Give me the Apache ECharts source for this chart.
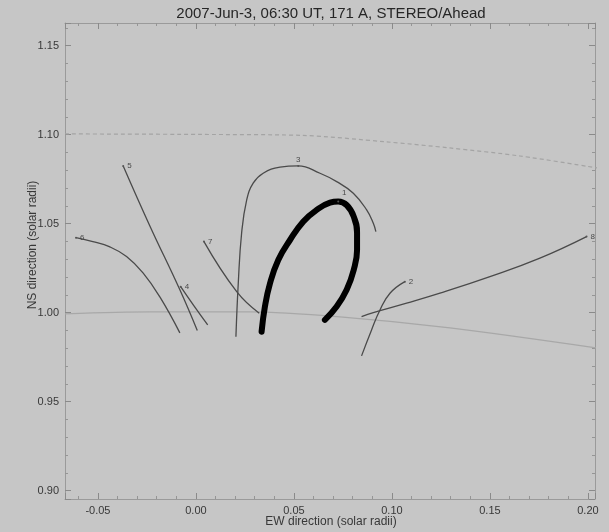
<!DOCTYPE html>
<html>
<head>
<meta charset="utf-8">
<script src="https://cdn.jsdelivr.net/npm/echarts@6/dist/echarts.min.js"></script>
<style>html,body{margin:0;padding:0;background:#c6c6c6;}#c{width:609px;height:532px;}</style>
</head>
<body>
<div id="c"></div>
<script>
// ---- data (solar radii) ----
var titleText = '2007-Jun-3, 06:30 UT, 171 A, STEREO/Ahead';
var xName = 'EW direction (solar radii)';
var yName = 'NS direction (solar radii)';
var xTicks = [-0.05, 0.00, 0.05, 0.10, 0.15, 0.20];
var yTicks = [0.90, 0.95, 1.00, 1.05, 1.10, 1.15];

var loop1X = [0.0335,0.0352,0.0378,0.0420,0.0480,0.0547,0.0616,0.0684,0.0726,0.0770,0.0805,0.0822,0.0822,0.0805,0.0769,0.0718,0.0658];
var loop1Y = [0.9893,1.0034,1.0165,1.0296,1.0408,1.0511,1.0577,1.0618,1.0624,1.0603,1.0540,1.0450,1.0350,1.0240,1.0128,1.0034,0.9959];
var loop2X = [0.1066,0.0990,0.0939,0.0896,0.0845];
var loop2Y = [1.0174,1.0109,1.0015,0.9903,0.9757];
var loop3X = [0.0204,0.0216,0.0233,0.0259,0.0292,0.0343,0.0429,0.0522,0.0633,0.0718,0.0803,0.0871,0.0905,0.0918];
var loop3Y = [0.9865,1.0165,1.0446,1.0633,1.0727,1.0783,1.0817,1.0824,1.0783,1.0736,1.0671,1.0577,1.0502,1.0455];
var loop4X = [-0.0078,-0.0010,0.0060];
var loop4Y = [1.0146,1.0038,0.9931];
var loop5X = [-0.0371,-0.0235,-0.0082,0.0007];
var loop5Y = [1.0824,1.0487,1.0128,0.9899];
var loop6X = [-0.0612,-0.0526,-0.0439,-0.0354,-0.0270,-0.0184,-0.0082];
var loop6Y = [1.0421,1.0399,1.0369,1.0315,1.0223,1.0088,0.9886];
var loop7X = [0.0041,0.0208,0.0323];
var loop7Y = [1.0399,1.0118,0.9997];
var loop8X = [0.1993,0.1755,0.1500,0.1245,0.1075,0.0905,0.0845];
var loop8Y = [1.0427,1.0306,1.0202,1.0109,1.0053,1.0000,0.9978];

var limbX = [-0.0668,-0.0235,0.0276,0.0735,0.1296,0.2041];
var limbY = [0.9993,1.0004,1.0004,0.9976,0.9914,0.9802];
var outerX = [-0.0668,0.0020,0.0531,0.0974,0.1296,0.1653,0.2046];
var outerY = [1.1004,1.1001,1.0996,1.0959,1.0925,1.0880,1.0813];

var loopNames = ['1','2','3','4','5','6','7','8'];
var loopLabelIdx = [8,0,7,0,0,0,0,0];

// ---- chart ----
var loopsX = [loop1X,loop2X,loop3X,loop4X,loop5X,loop6X,loop7X,loop8X];
var loopsY = [loop1Y,loop2Y,loop3Y,loop4Y,loop5Y,loop6Y,loop7Y,loop8Y];
function pts(xs, ys){ return xs.map(function(x,i){ return [x, ys[i]]; }); }
function isTick(v, list){ for (var i=0;i<list.length;i++){ if (Math.abs(v-list[i])<1e-6) return true; } return false; }

var series = [];
series.push({type:'line', data: pts(outerX, outerY), symbol:'none', smooth:0.3, silent:true,
  lineStyle:{color:'#a4a4a4', width:1.2, type:[4,3]}, z:1});
series.push({type:'line', data: pts(limbX, limbY), symbol:'none', smooth:0.3, silent:true,
  lineStyle:{color:'#a8a8a8', width:1.2}, z:1});
for (var k=0;k<8;k++){
  var d = pts(loopsX[k], loopsY[k]).map(function(p, i){
    var item = {value: p, symbolSize: 0};
    if (i === loopLabelIdx[k]) {
      item.symbolSize = 2;
      var lab = {show:true, formatter: loopNames[k], position: 'right',
        distance: 3, fontSize: 8, color:'#4a4a4a', fontFamily:'Liberation Sans'};
      if (k === 2) { lab.position = 'top'; lab.distance = 1; }
      if (k === 0) { lab.position = 'top'; lab.distance = 4; lab.offset = [6, 0]; }
      item.label = lab;
    }
    return item;
  });
  series.push({type:'line', data: d, symbol:'circle', showSymbol:true, showAllSymbol:true,
    smooth:0.45, silent:true,
    itemStyle:{color:'#555'},
    lineStyle: k===0 ? {color:'#000', width:6, cap:'round'} : {color:'#4a4a4a', width:1.3},
    z: k===0 ? 3 : 2});
}

var axisCommon = {
  type:'value', scale:true,
  axisLine:{show:true, onZero:false, lineStyle:{color:'#9a9a9a', width:1}},
  axisTick:{show:true, inside:true, length:6, lineStyle:{color:'#8a8a8a'}},
  minorTick:{show:true, splitNumber:5, length:3, lineStyle:{color:'#959595'}},
  splitLine:{show:false}
};
function mk(extra){ var o = JSON.parse(JSON.stringify(axisCommon)); for (var k in extra) o[k]=extra[k]; return o; }

var chart = echarts.init(document.getElementById('c'), null, {renderer:'canvas'});
chart.setOption({
  backgroundColor:'#c6c6c6',
  animation:false,
  grid:{left:65, right:14, top:23, bottom:33, show:false},
  xAxis:[
    mk({position:'bottom', min:-0.0668, max:0.2036, splitNumber:5,
      axisLabel:{show:true, margin:6, fontSize:11, color:'#383838', fontFamily:'Liberation Sans',
        formatter:function(v){ return isTick(v, xTicks) ? v.toFixed(2) : ''; }}}),
    mk({position:'top', min:-0.0668, max:0.2036, splitNumber:5, axisLabel:{show:false}})
  ],
  yAxis:[
    mk({position:'left', min:0.8953, max:1.1627, splitNumber:5,
      axisLabel:{show:true, margin:6, fontSize:11, color:'#383838', fontFamily:'Liberation Sans',
        formatter:function(v){ return isTick(v, yTicks) ? v.toFixed(2) : ''; }}}),
    mk({position:'right', min:0.8953, max:1.1627, splitNumber:5, axisLabel:{show:false}})
  ],
  graphic:[
    {type:'text', x:331, y:14, style:{text:titleText, align:'center', verticalAlign:'middle',
      font:'15px "Liberation Sans"', fill:'#262626'}},
    {type:'text', x:331, y:522, style:{text:xName, align:'center', verticalAlign:'middle',
      font:'12px "Liberation Sans"', fill:'#383838'}},
    {type:'text', x:33, y:245, rotation:Math.PI/2, style:{text:yName, align:'center', verticalAlign:'middle',
      font:'12px "Liberation Sans"', fill:'#383838'}}
  ],
  series: series
});
</script>
</body>
</html>
